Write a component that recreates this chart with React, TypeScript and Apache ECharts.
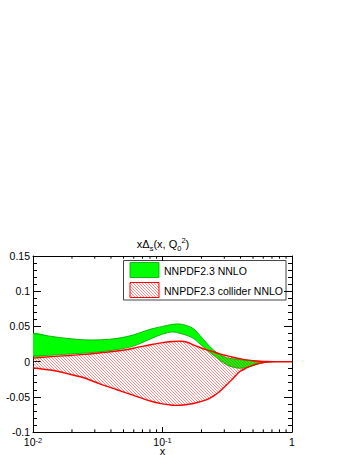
import React, { useEffect, useRef } from "react";
import * as echarts from "echarts";

// ---- data ----
const xValues = [0.01, 0.0137, 0.0184, 0.0247, 0.0332, 0.0446, 0.0598, 0.0804, 0.1, 0.12, 0.137, 0.155, 0.173, 0.195, 0.22, 0.247, 0.278, 0.313, 0.352, 0.396, 0.445, 0.5, 0.56, 0.635, 0.75, 0.87, 1];
const nnloHigh = [0.04, 0.036, 0.033, 0.031, 0.031, 0.033, 0.038, 0.046, 0.05, 0.053, 0.0534, 0.051, 0.047, 0.037, 0.026, 0.0166, 0.01, 0.0055, 0.004, 0.003, 0.002, 0.001, 0.0005, 0, 0, 0, 0];
const nnloLow = [0.008, 0.009, 0.0105, 0.012, 0.014, 0.017, 0.022, 0.032, 0.039, 0.042, 0.04, 0.037, 0.033, 0.025, 0.0166, 0.009, 0.002, -0.0047, -0.008, -0.0095, -0.0085, -0.006, -0.003, -0.001, 0, 0, 0];
const colliderHigh = [0.005, 0.007, 0.0085, 0.0102, 0.0125, 0.015, 0.019, 0.024, 0.027, 0.0285, 0.029, 0.0275, 0.0237, 0.02, 0.0166, 0.014, 0.011, 0.0085, 0.0062, 0.0042, 0.0024, 0.0013, 0.0005, 0.0001, 0, 0, 0];
const colliderLow = [-0.009, -0.012, -0.017, -0.023, -0.032, -0.04, -0.048, -0.056, -0.06, -0.062, -0.062, -0.061, -0.0595, -0.057, -0.054, -0.049, -0.042, -0.033, -0.0235, -0.014, -0.009, -0.005, -0.0023, -0.0005, 0, 0, 0];
const xMinorTicks = [0.02, 0.03, 0.04, 0.05, 0.06, 0.07, 0.08, 0.09, 0.2, 0.3, 0.4, 0.5, 0.6, 0.7, 0.8, 0.9];
const seriesNames = ["NNPDF2.3 NNLO", "NNPDF2.3 collider NNLO"];

const X_MIN = 0.01;
const X_MAX = 1;
const Y_MIN = -0.1;
const Y_MAX = 0.15;
const Y_STEP = 0.05;
const FONT = "Liberation Sans, Arial, Helvetica, sans-serif";

function makeHatch() {
  const s = 3;
  const c = document.createElement("canvas");
  c.width = s;
  c.height = s;
  const ctx = c.getContext("2d")!;
  ctx.strokeStyle = "rgba(255,40,40,0.6)";
  ctx.lineWidth = 0.9;
  ctx.beginPath();
  ctx.moveTo(-1, -1);
  ctx.lineTo(s + 1, s + 1);
  ctx.moveTo(-1, s - 1);
  ctx.lineTo(1, s + 1);
  ctx.moveTo(s - 1, -1);
  ctx.lineTo(s + 1, 1);
  ctx.stroke();
  return { image: c.toDataURL(), repeat: "repeat", imageWidth: s, imageHeight: s } as any;
}

function bandRenderer(fill: any, stroke: string, lw: number) {
  return (params: any, api: any) => {
    if (params.dataIndex !== 0) return null;
    const n = params.dataInsideLength;
    const hi: number[][] = [];
    const lo: number[][] = [];
    for (let i = 0; i < n; i++) {
      const x = api.value(0, i);
      lo.push(api.coord([x, api.value(1, i)]));
      hi.push(api.coord([x, api.value(2, i)]));
    }
    const loRev = lo.slice(0, -1).reverse();
    return {
      type: "group",
      children: [
        { type: "polygon", shape: { points: hi.concat(loRev), smooth: 0.3 }, style: { fill, stroke: "none" } },
        { type: "polyline", shape: { points: hi, smooth: 0.3 }, style: { fill: "none", stroke, lineWidth: lw } },
        { type: "polyline", shape: { points: lo, smooth: 0.3 }, style: { fill: "none", stroke, lineWidth: lw } },
      ],
    };
  };
}

export default function App() {
  const ref = useRef<HTMLDivElement>(null);
  useEffect(() => {
    if (!ref.current) return;
    const chart = echarts.init(ref.current, null, { renderer: "svg" });
    const hatch = makeHatch();
    const green = "#00ff00";
    const greenEdge = "#00a000";
    const red = "#ff0000";

    const labelRich = {
      b: { fontSize: 10.5, fontFamily: FONT, color: "#000", lineHeight: 11, verticalAlign: "middle" },
      s: { fontSize: 7.5, fontFamily: FONT, color: "#000", lineHeight: 7, verticalAlign: "top" },
    };

    const baseX = {
      type: "log",
      logBase: 10,
      min: X_MIN,
      max: X_MAX,
      axisLine: { show: true, onZero: false, lineStyle: { color: "#000", width: 1 } },
      axisTick: { show: true, inside: true, length: 5, lineStyle: { color: "#000", width: 1 } },
      splitLine: { show: false },
    };
    const baseY = {
      type: "value",
      min: Y_MIN,
      max: Y_MAX,
      interval: Y_STEP,
      axisLine: { show: true, onZero: false, lineStyle: { color: "#000", width: 1 } },
      axisTick: { show: true, inside: true, length: 8, lineStyle: { color: "#000", width: 1 } },
      minorTick: { show: true, splitNumber: 5, length: 4, lineStyle: { color: "#000", width: 1 } },
      splitLine: { show: false },
      minorSplitLine: { show: false },
    };

    chart.setOption({
      animation: false,
      backgroundColor: "#fff",
      grid: { left: 33, right: 60, top: 256, bottom: 23, containLabel: false },
      xAxis: [
        {
          ...baseX,
          position: "bottom",
          axisLabel: {
            margin: 4,
            formatter: (v: number) => {
              const e = Math.round(Math.log10(v));
              return e === 0 ? "{b|1}" : `{b|10}{s|${e}}`;
            },
            rich: labelRich,
          },
        },
        { ...baseX, position: "top", axisLabel: { show: false } },
      ],
      yAxis: [
        {
          ...baseY,
          position: "left",
          axisLabel: { margin: 3, fontSize: 10.5, lineHeight: 8, fontFamily: FONT, color: "#000" },
        },
        { ...baseY, position: "right", axisLabel: { show: false } },
      ],
      series: [
        {
          type: "custom",
          name: seriesNames[0],
          xAxisIndex: 0,
          yAxisIndex: 0,
          clip: true,
          encode: { x: 0, y: [1, 2] },
          data: xValues.map((x, i) => [x, nnloLow[i], nnloHigh[i]]),
          renderItem: bandRenderer(green, greenEdge, 0.8),
          z: 2,
        },
        {
          type: "custom",
          name: seriesNames[1],
          xAxisIndex: 0,
          yAxisIndex: 0,
          clip: true,
          encode: { x: 0, y: [1, 2] },
          data: xValues.map((x, i) => [x, colliderLow[i], colliderHigh[i]]),
          renderItem: bandRenderer(hatch, red, 1.4),
          z: 3,
        },
        {
          type: "custom",
          name: "minor ticks",
          xAxisIndex: 0,
          yAxisIndex: 0,
          encode: { x: 0, y: 1 },
          data: xMinorTicks.map((x) => [x, 0]),
          renderItem: (params: any, api: any) => {
            const x = api.value(0);
            const b = api.coord([x, Y_MIN]);
            const t = api.coord([x, Y_MAX]);
            return {
              type: "group",
              children: [
                { type: "line", shape: { x1: b[0], y1: b[1], x2: b[0], y2: b[1] - 2.7 }, style: { stroke: "#000", lineWidth: 1 } },
                { type: "line", shape: { x1: t[0], y1: t[1], x2: t[0], y2: t[1] + 2.7 }, style: { stroke: "#000", lineWidth: 1 } },
              ],
            };
          },
          z: 5,
        },
      ],
      graphic: [
        {
          type: "text",
          x: 163,
          y: 244,
          z: 100,
          style: {
            text: "{n|xΔ}{sb|s}{n|(x, Q}{sb|0}{sp|2}{n|)}",
            align: "center",
            verticalAlign: "middle",
            rich: {
              n: { fontSize: 11, fontFamily: FONT, color: "#000", lineHeight: 16, verticalAlign: "middle" },
              sb: { fontSize: 7.5, fontFamily: FONT, color: "#000", lineHeight: 8, verticalAlign: "bottom" },
              sp: { fontSize: 7.5, fontFamily: FONT, color: "#000", lineHeight: 8, verticalAlign: "top" },
            },
          },
        },
        {
          type: "text",
          x: 162.5,
          y: 450.5,
          z: 100,
          style: { text: "x", fontSize: 11, lineHeight: 4, fontFamily: FONT, fill: "#000", align: "center", verticalAlign: "middle" },
        },
        {
          type: "group",
          z: 100,
          children: [
            { type: "rect", shape: { x: 123.5, y: 260.5, width: 162.5, height: 39.5 }, style: { fill: "#fff", stroke: "#444", lineWidth: 1 } },
            { type: "rect", shape: { x: 130, y: 262.5, width: 29, height: 15 }, style: { fill: green, stroke: greenEdge, lineWidth: 0.8 } },
            { type: "rect", shape: { x: 130, y: 282.5, width: 29, height: 15 }, style: { fill: hatch, stroke: red, lineWidth: 1 } },
            { type: "text", x: 164, y: 270.5, style: { text: seriesNames[0], fontSize: 10.5, fontFamily: FONT, fill: "#000", verticalAlign: "middle" } },
            { type: "text", x: 164, y: 290.5, style: { text: seriesNames[1], fontSize: 10.5, fontFamily: FONT, fill: "#000", verticalAlign: "middle" } },
          ],
        },
      ],
    });
    return () => chart.dispose();
  }, []);
  return <div ref={ref} style={{ position: "absolute", left: 0, top: 0, width: 352, height: 455 }} />;
}
